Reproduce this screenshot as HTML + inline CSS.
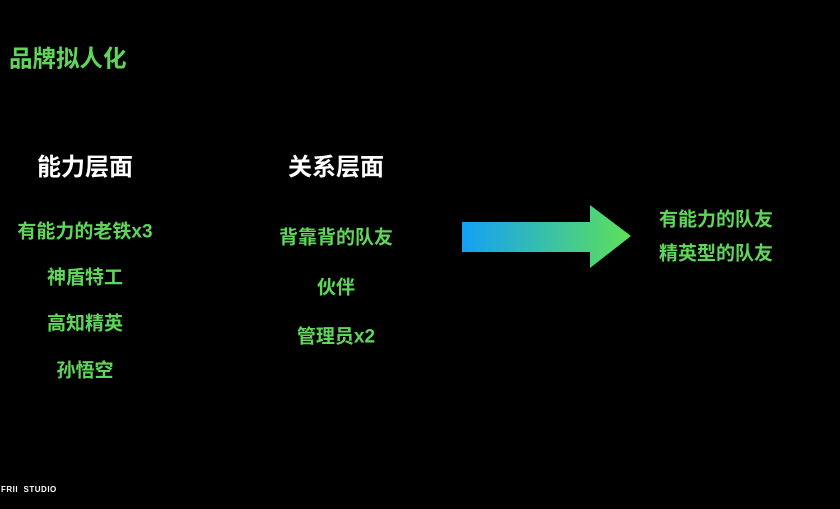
<!DOCTYPE html>
<html><head><meta charset="utf-8"><style>
body{margin:0;width:840px;height:509px;background:#000;position:relative;overflow:hidden;font-family:"Liberation Sans","Noto Sans CJK SC",sans-serif;font-weight:bold}
.t{position:absolute;white-space:nowrap;line-height:1;transform:translateY(-50%)}
.c{transform:translate(-50%,-50%)}
.g{color:#5fd65a;font-size:19px}
.w{color:#fff;font-size:24px}
</style></head><body>
<div class="t" style="left:9px;top:59px;color:#5fd65a;font-size:23.5px">品牌拟人化</div>
<div class="t c w" style="left:85px;top:168px">能力层面</div>
<div class="t c w" style="left:336px;top:168px">关系层面</div>
<div class="t c g" style="left:85px;top:232px">有能力的老铁x3</div>
<div class="t c g" style="left:85px;top:278px">神盾特工</div>
<div class="t c g" style="left:85px;top:324px">高知精英</div>
<div class="t c g" style="left:85px;top:371px">孙悟空</div>
<div class="t c g" style="left:336px;top:238px">背靠背的队友</div>
<div class="t c g" style="left:336px;top:288px">伙伴</div>
<div class="t c g" style="left:336px;top:337px">管理员x2</div>
<div class="t g" style="left:659px;top:220px">有能力的队友</div>
<div class="t g" style="left:659px;top:254px">精英型的队友</div>
<svg style="position:absolute;left:0;top:0" width="840" height="509">
<defs><linearGradient id="a" x1="462" x2="630" y1="0" y2="0" gradientUnits="userSpaceOnUse"><stop offset="0" stop-color="#14a0f5"/><stop offset="1" stop-color="#5ee05a"/></linearGradient></defs>
<polygon points="462,222 590,222 590,205 631,236 590,268 590,252 462,252" fill="url(#a)"/>
</svg>
<div class="t" style="left:1px;top:490px;color:#fff;font-size:8px;letter-spacing:0.5px">FRII&nbsp; STUDIO</div>
</body></html>
